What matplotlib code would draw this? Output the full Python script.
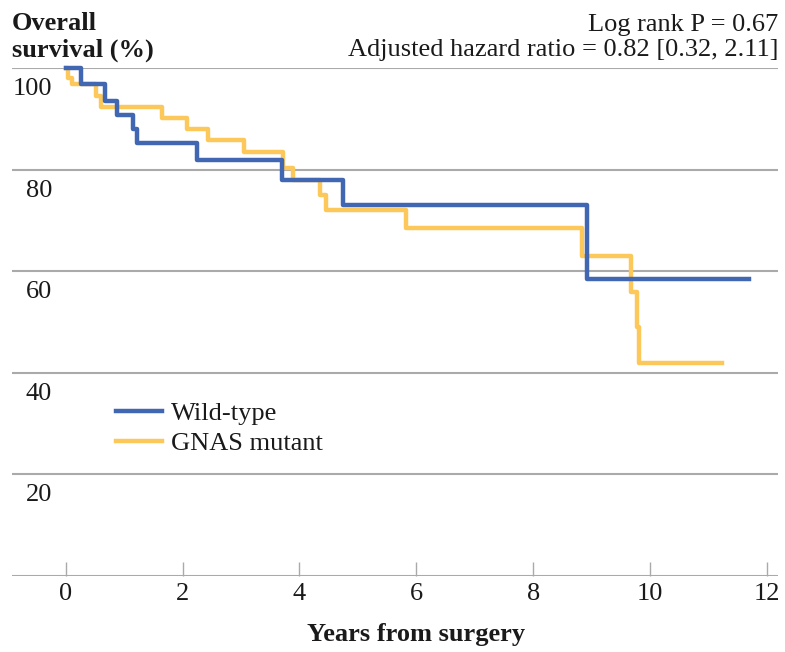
import matplotlib.pyplot as plt
import matplotlib.transforms as mtransforms

# Kaplan-Meier step data
wt_years = [0, 0.26, 0.67, 0.87, 1.15, 1.22, 2.24, 3.70, 4.74, 8.92, 11.70]
wt_surv = [100, 96.8, 93.6, 90.8, 87.9, 85.2, 81.9, 78.0, 73.0, 58.5, 58.5]

gnas_years = [0, 0.04, 0.10, 0.52, 0.61, 1.64, 2.08, 2.44, 3.05, 3.72, 3.89,
              4.35, 4.46, 5.83, 8.83, 9.67, 9.77, 9.81, 11.24]
gnas_surv = [100, 98.1, 96.8, 94.4, 92.3, 90.1, 88.0, 85.8, 83.4, 80.4, 78.0,
             75.0, 72.0, 68.6, 62.9, 56.0, 49.1, 41.9, 41.9]

y_ticks = [0, 20, 40, 60, 80, 100]
y_tick_labels = ["", "20", "40", "60", "80", "100"]
x_ticks = [0, 2, 4, 6, 8, 10, 12]

BLUE = "#4267B2"
YELLOW = "#FDC85A"
GRID = "#AAAAAA"
INK = "#1a1a1a"

plt.rcParams['font.family'] = ['Liberation Serif', 'DejaVu Serif']
plt.rcParams['font.size'] = 19

fig = plt.figure(figsize=(7.85, 6.52), dpi=100)
ax = fig.add_axes([12 / 785, 76 / 652, 766 / 785, 508 / 652])

ax.step(gnas_years, gnas_surv, where='post', color=YELLOW, lw=3.2,
        label='GNAS mutant', clip_on=False, zorder=3)
ax.step(wt_years, wt_surv, where='post', color=BLUE, lw=3.2,
        label='Wild-type', clip_on=False, zorder=4)

ax.set_xlim(-0.92, 12.19)
ax.set_ylim(0, 100)
for s in ax.spines.values():
    s.set_visible(False)

ax.set_yticks(y_ticks)
ax.yaxis.grid(True, color=GRID, lw=1.5)
ax.tick_params(axis='y', left=False, labelleft=False)
ax.set_axisbelow(True)

# y labels sit under their gridlines
trans = mtransforms.blended_transform_factory(ax.transAxes, ax.transData)
for v, lab in zip(y_ticks, y_tick_labels):
    if lab:
        ax.annotate(lab, xy=(40 / 766, v), xycoords=trans,
                    xytext=(0, -19.5), textcoords='offset points',
                    ha='right', va='baseline', color=INK)

ax.set_xticks(x_ticks)
ax.tick_params(axis='x', direction='in', length=10, width=1.0, color=GRID,
               pad=5, labelcolor=INK)

ax.text(6, -12.8, 'Years from surgery', ha='center', va='baseline',
        fontweight='bold', color=INK)

fig.text(12 / 785, 1 - 30 / 652, 'Overall', ha='left', va='baseline',
         fontweight='bold', color=INK)
fig.text(12 / 785, 1 - 57 / 652, 'survival (%)', ha='left', va='baseline',
         fontweight='bold', color=INK)
fig.text(778 / 785, 1 - 31 / 652, 'Log rank P = 0.67', ha='right',
         va='baseline', color=INK)
fig.text(778 / 785, 1 - 56 / 652, 'Adjusted hazard ratio = 0.82 [0.32, 2.11]',
         ha='right', va='baseline', color=INK)

handles, labels = ax.get_legend_handles_labels()
leg = ax.legend(handles[::-1], labels[::-1], frameon=False, loc='upper left',
                bbox_to_anchor=(116 / 785, 1 - 402 / 652),
                bbox_transform=fig.transFigure, borderpad=0, borderaxespad=0,
                handlelength=1.74, handletextpad=0.35, labelspacing=0.23)
for t in leg.get_texts():
    t.set_color(INK)

fig.savefig('out.png', dpi=100)
